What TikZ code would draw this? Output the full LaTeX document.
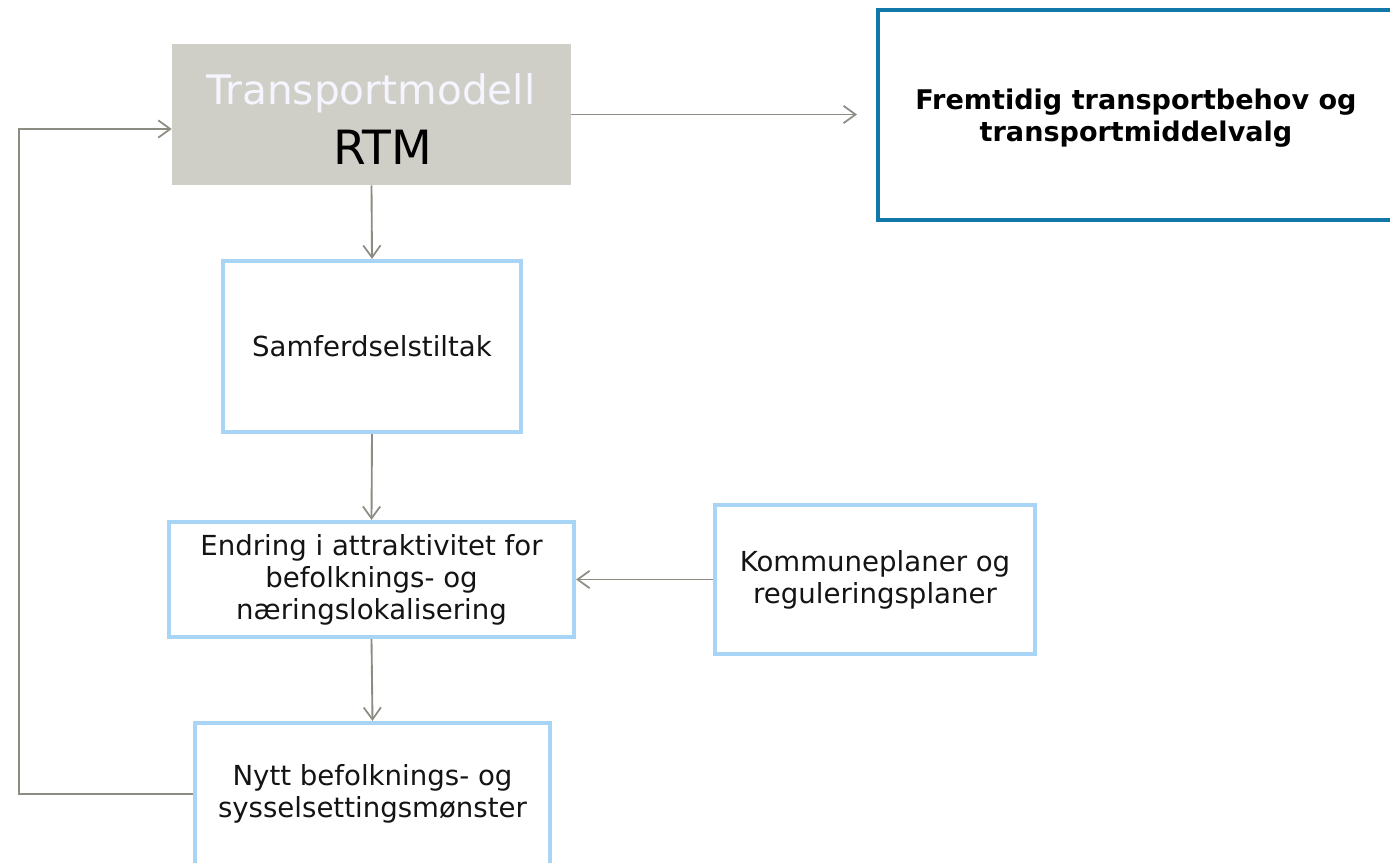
\documentclass[tikz,border=0pt]{standalone}
\usepackage{fontspec}
\setmainfont{DejaVu Sans}
\usetikzlibrary{arrows.meta,calc}
\definecolor{rtmgray}{RGB}{208,207,199}
\definecolor{lblue}{RGB}{168,212,245}
\definecolor{dblue}{RGB}{16,119,168}
\definecolor{arrgray}{RGB}{140,140,130}
\definecolor{txt}{RGB}{20,20,20}
\tikzset{
  box/.style={draw=lblue, line width=3.2pt, fill=white, align=center, font=\fontsize{20.7}{24}\selectfont, text=txt, inner sep=0pt},
  arr/.style={draw=arrgray, line width=1.4pt, -{Straight Barb[length=9pt,width=13pt,line width=1.3pt]}},
}
\begin{document}
\begin{tikzpicture}[x=0.75pt,y=-0.75pt]
\useasboundingbox (0,0) rectangle (1390,863);
% RTM box
\node[fill=rtmgray, minimum width=299.25pt, minimum height=105.75pt, inner sep=0pt] (rtm) at (371.5,114.5) {};
\node[text=white!96!blue, font=\fontsize{30.5}{36}\selectfont, inner sep=0pt] (rtmA) at (371,93) {Transportmodell};
\node[text=black, font=\fontsize{35.4}{42}\selectfont, inner sep=0pt] (rtmB) at (382.5,147) {RTM};
% right box
\node[draw=dblue, line width=3.2pt, minimum width=387.75pt, minimum height=157.5pt, inner sep=0pt] (fremt) at (1136.5,115) {};
\node[font=\bfseries\fontsize{20.3}{24}\selectfont, align=center, text=black, inner sep=0pt] (fremtT) at (1136,118) {Fremtidig transportbehov og\\transportmiddelvalg};
% blue boxes
\node[box, minimum width=223.5pt, minimum height=128.25pt] (samf) at (372,346.5) {Samferdselstiltak};
\node[box, minimum width=303.75pt, minimum height=86.25pt] (endr) at (371.5,579.5) {Endring i attraktivitet for\\befolknings- og\\næringslokalisering};
\node[box, minimum width=240pt, minimum height=111.75pt] (komm) at (875,579.5) {Kommuneplaner og\\reguleringsplaner};
\node[box, minimum width=266.25pt, minimum height=106.5pt] (nytt) at (372.5,794) {Nytt befolknings- og\\sysselsettingsmønster};
% connectors
\coordinate (rtmend) at (857,114.5);
\draw[arr] (rtm.east) -- (rtmend);
\draw[arr] (rtm.south) -- (samf.north);
\draw[arr] (samf.south) -- (endr.north);
\draw[arr] (endr.south) -- (nytt.north);
\draw[arr] (komm.west) -- (endr.east);
\draw[arr] (nytt.west) -- ++(-174,0) |- ($(rtm.west)+(0,14.5)$);
\end{tikzpicture}
\end{document}
